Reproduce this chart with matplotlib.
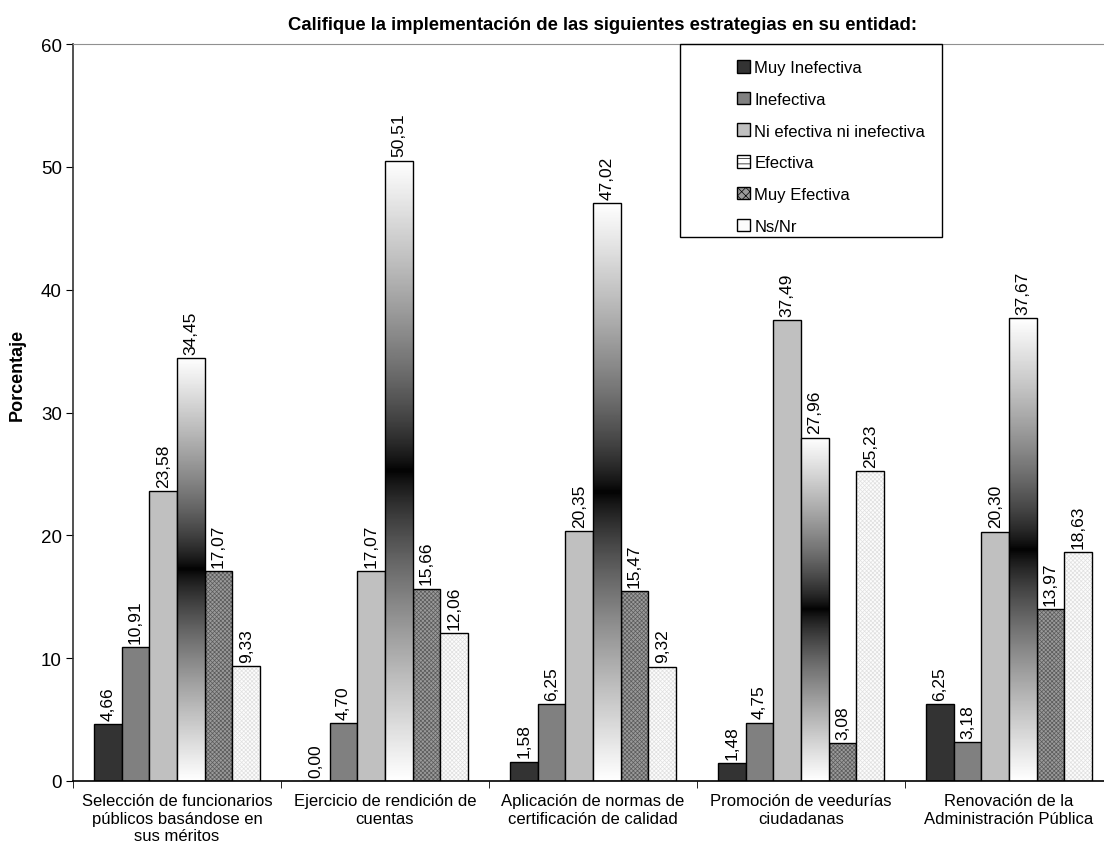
import numpy as np
import matplotlib
matplotlib.use("Agg")
import matplotlib.pyplot as plt
from matplotlib.patches import Patch, Rectangle

plt.rcParams['font.family'] = ['Liberation Sans', 'DejaVu Sans']
plt.rcParams['hatch.linewidth'] = 0.5

categories = [
    "Selección de funcionarios\npúblicos basándose en\nsus méritos",
    "Ejercicio de rendición de\ncuentas",
    "Aplicación de normas de\ncertificación de calidad",
    "Promoción de veedurías\nciudadanas",
    "Renovación de la\nAdministración Pública",
]
series_names = ["Muy Inefectiva", "Inefectiva", "Ni efectiva ni inefectiva",
                "Efectiva", "Muy Efectiva", "Ns/Nr"]
muy_inefectiva = [4.66, 0.00, 1.58, 1.48, 6.25]
inefectiva = [10.91, 4.70, 6.25, 4.75, 3.18]
ni_efectiva = [23.58, 17.07, 20.35, 37.49, 20.30]
efectiva = [34.45, 50.51, 47.02, 27.96, 37.67]
muy_efectiva = [17.07, 15.66, 15.47, 3.08, 13.97]
ns_nr = [9.33, 12.06, 9.32, 25.23, 18.63]
series = [muy_inefectiva, inefectiva, ni_efectiva, efectiva, muy_efectiva, ns_nr]

title = "Califique la implementación de las siguientes estrategias en su entidad:"
ylabel = "Porcentaje"

fig = plt.figure(figsize=(11.04, 8.54), dpi=100)
ax = fig.add_axes([73/1104, 1-782/854, 1040/1104, 737/854])

n = len(series)
w = 1/7.5
x = np.arange(len(categories))
grad = (np.abs(np.linspace(-1, 1, 256)) ** 0.75).reshape(-1, 1)
lw = 1.0

for i, vals in enumerate(series):
    xs = x + (i - (n-1)/2) * w
    if i == 0:
        ax.bar(xs, vals, w, color='#333333', edgecolor='black', linewidth=lw)
    elif i == 1:
        ax.bar(xs, vals, w, color='#808080', edgecolor='black', linewidth=lw)
    elif i == 2:
        ax.bar(xs, vals, w, color='#c0c0c0', edgecolor='black', linewidth=lw)
    elif i == 3:
        bars = ax.bar(xs, vals, w, color='none', edgecolor='black', linewidth=lw, zorder=3)
        for b in bars:
            x0 = b.get_x(); h = b.get_height()
            im = ax.imshow(grad, cmap='gray', vmin=0, vmax=1, aspect='auto',
                           extent=[x0, x0 + w, 0, h], origin='lower', zorder=2)
            im.set_clip_path(b)
    elif i == 4:
        ax.bar(xs, vals, w, color='#9a9a9a', edgecolor='#5a5a5a', hatch='xxxxxxxx', linewidth=0)
        ax.bar(xs, vals, w, fill=False, edgecolor='black', linewidth=lw)
    else:
        ax.bar(xs, vals, w, color='#fcfcfc', edgecolor='#e0e0e0', hatch='xxxxxxxx', linewidth=0)
        ax.bar(xs, vals, w, fill=False, edgecolor='black', linewidth=lw)
    for xx, v in zip(xs, vals):
        ax.annotate(f"{v:.2f}".replace('.', ','), (xx, v), xytext=(0, 3),
                    textcoords='offset points', rotation=90, ha='center', va='bottom',
                    fontsize=12.5)

ax.set_xlim(-0.5, len(categories) - 0.5)
ax.set_ylim(0, 60)
ax.set_yticks(range(0, 61, 10))
ax.tick_params(axis='y', direction='out', length=5, labelsize=13.5, pad=3)
ax.set_xticks(x)
ax.set_xticklabels(categories, fontsize=12)
ax.tick_params(axis='x', length=0, pad=9)
ax.set_xticks(np.arange(-0.5, len(categories)), minor=True)
ax.tick_params(axis='x', which='minor', direction='out', length=5)
ax.spines['right'].set_visible(False)
ax.spines['top'].set_color('#909090')
ax.spines['left'].set_color('#333333')
ax.spines['left'].set_linewidth(1.2)
ax.spines['bottom'].set_linewidth(1.2)

fig.text(603/1104, 1-26/854, title, ha='center', va='center', fontsize=13.3, fontweight='bold')
fig.text(17/1104, 1-375/854, ylabel, ha='center', va='center', rotation=90,
         fontsize=13, fontweight='bold')

handles = [
    Patch(facecolor='#333333', edgecolor='black'),
    Patch(facecolor='#808080', edgecolor='black'),
    Patch(facecolor='#c0c0c0', edgecolor='black'),
    Patch(facecolor='white', edgecolor='black', hatch='---'),
    Patch(facecolor='#9a9a9a', edgecolor='black', hatch='xxxx'),
    Patch(facecolor='#fcfcfc', edgecolor='black'),
]
fig.patches.append(Rectangle((680/1104, 1-238/854), 262/1104, 193/854,
                             transform=fig.transFigure, fill=False,
                             edgecolor='black', linewidth=1, zorder=5))
fig.legend(handles, series_names, loc='upper left',
           bbox_to_anchor=(722/1104, 1-46/854), frameon=False, fontsize=12,
           handlelength=0.78, handleheight=0.78, handletextpad=0.25,
           labelspacing=1.0, borderpad=0.4)

fig.savefig('out.png', dpi=100)
